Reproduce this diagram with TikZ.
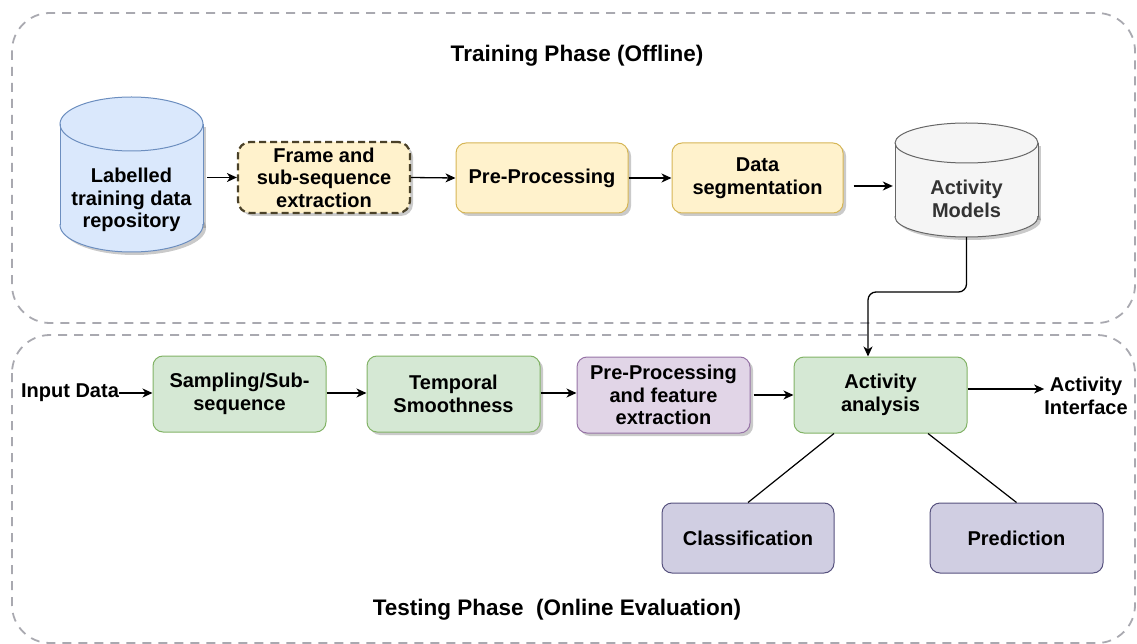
\documentclass[tikz,border=0pt]{standalone}
\usepackage{fontspec}
\setmainfont{Liberation Sans}
\usetikzlibrary{arrows.meta,shadows,calc}
\definecolor{phasegray}{HTML}{A9A9B0}
\definecolor{bluefill}{HTML}{DAE8FC}
\definecolor{bluedraw}{HTML}{6C8EBF}
\definecolor{yelfill}{HTML}{FFF2CC}
\definecolor{yeldraw}{HTML}{D6B656}
\definecolor{framedraw}{HTML}{4A4128}
\definecolor{grnfill}{HTML}{D5E8D4}
\definecolor{grndraw}{HTML}{82B366}
\definecolor{purfill}{HTML}{E1D5E7}
\definecolor{purdraw}{HTML}{9673A6}
\definecolor{slfill}{HTML}{D0CEE2}
\definecolor{sldraw}{HTML}{56517E}
\definecolor{grayfill}{HTML}{F5F5F5}
\definecolor{graydraw}{HTML}{666666}
\definecolor{graytext}{HTML}{333333}
\tikzset{
  phase/.style={draw=phasegray, line width=1.8pt, dash pattern=on 9pt off 7pt, rounded corners=38pt},
  txt/.style={font=\fontsize{20}{22.5}\selectfont\bfseries, align=center, inner sep=0pt},
  ttl/.style={font=\fontsize{22.5}{26}\selectfont\bfseries, align=center, inner sep=0pt},
  box/.style={txt, draw, line width=1pt, rounded corners=10pt},
  shd/.style={drop shadow={shadow xshift=3pt, shadow yshift=-3pt, opacity=0.35, fill=black!60}},
  arr/.style={-{Stealth[length=10pt,width=9pt,inset=3pt]}, line width=1.3pt},
  link/.style={line width=1.2pt},
}
\begin{document}
\begin{tikzpicture}[x=1pt,y=-1pt]
\useasboundingbox (0,0) rectangle (1137,644);
% phase frames
\draw[phase] (12,13) rectangle (1135,323);
\draw[phase] (12,335) rectangle (1135,643);
\node[ttl] (trainttl) at (577,56) {Training Phase (Offline)};
\node[ttl] (testttl) at (557,610) {Testing Phase\ \ (Online Evaluation)};

% cylinder 1: Labelled training data repository
\fill[black!60, opacity=0.35] (63,127) rectangle (206,228);
\fill[black!60, opacity=0.35] (134.5,228) ellipse [x radius=71.5pt, y radius=27pt];
\fill[bluefill] (60,124) rectangle (203,225);
\fill[bluefill] (131.5,225) ellipse [x radius=71.5pt, y radius=27pt];
\fill[bluefill] (131.5,124) ellipse [x radius=71.5pt, y radius=27pt];
\draw[bluedraw, line width=1pt] (60,124) -- (60,225) (203,124) -- (203,225);
\draw[bluedraw, line width=1pt] (131.5,124) ellipse [x radius=71.5pt, y radius=27pt];
\begin{scope}
\clip (50,225) rectangle (215,262);
\draw[bluedraw, line width=1pt] (131.5,225) ellipse [x radius=71.5pt, y radius=27pt];
\end{scope}
\node[minimum width=143pt, minimum height=155pt, inner sep=0pt] (lab) at (131.5,174.5) {};
\node[txt] (labtxt) at (131.5,200) {Labelled\\training data\\repository};

% cylinder 2: Activity Models
\fill[black!60, opacity=0.35] (898,146) rectangle (1041,220);
\fill[black!60, opacity=0.35] (969.5,220) ellipse [x radius=71.5pt, y radius=20pt];
\fill[grayfill] (895,143) rectangle (1038,217);
\fill[grayfill] (966.5,217) ellipse [x radius=71.5pt, y radius=20pt];
\fill[grayfill] (966.5,143) ellipse [x radius=71.5pt, y radius=20pt];
\draw[graydraw, line width=1pt] (895,143) -- (895,217) (1038,143) -- (1038,217);
\draw[graydraw, line width=1pt] (966.5,143) ellipse [x radius=71.5pt, y radius=20pt];
\begin{scope}
\clip (885,217) rectangle (1050,245);
\draw[graydraw, line width=1pt] (966.5,217) ellipse [x radius=71.5pt, y radius=20pt];
\end{scope}
\node[minimum width=143pt, minimum height=114pt, inner sep=0pt] (am) at (966.5,180) {};
\node[txt, text=graytext] (amtxt) at (966.5,199) {Activity\\Models};

% training boxes
\node[box, shd, fill=yelfill, draw=framedraw, line width=2.2pt, dash pattern=on 7pt off 4pt, rounded corners=12pt,
      minimum width=172pt, minimum height=71pt] (frame) at (324,177.5) {Frame and\\sub-sequence\\extraction};
\node[box, shd, fill=yelfill, draw=yeldraw, minimum width=172pt, minimum height=70pt] (pre) at (542,178) {Pre-Processing};
\node[box, shd, fill=yelfill, draw=yeldraw, minimum width=171pt, minimum height=70pt] (seg) at (757.5,178) {Data\\segmentation};

% testing boxes
\node[txt] (input) at (70,393) {Input Data};
\node[box, fill=grnfill, draw=grndraw, minimum width=173pt, minimum height=76pt] (samp) at (239.5,394) {Sampling/Sub-\\sequence};
\node[box, shd, fill=grnfill, draw=grndraw, minimum width=173pt, minimum height=76pt] (temp) at (453.5,394) {Temporal\\Smoothness};
\node[box, shd, fill=purfill, draw=purdraw, minimum width=173pt, minimum height=76pt] (ppf) at (663.5,395) {Pre-Processing\\and feature\\extraction};
\node[box, fill=grnfill, draw=grndraw, minimum width=173pt, minimum height=76pt] (act) at (880.5,395) {Activity\\analysis};
\node[txt] (iface) at (1086,396) {Activity\\Interface};
\node[box, fill=slfill, draw=sldraw, minimum width=172pt, minimum height=70pt] (cls) at (748,538) {Classification};
\node[box, fill=slfill, draw=sldraw, minimum width=173pt, minimum height=70pt] (pred) at (1016.5,538) {Prediction};

% training connectors
\draw[arr] ([xshift=4pt]lab.east |- frame.west) -- (frame.west);
\draw[arr] (frame.east) -- (pre.west);
\draw[arr] (pre.east) -- (seg.west);
\draw[arr] ([xshift=10pt, yshift=-8pt]seg.east) -- ([xshift=-2pt]am.west |- 0,186);
\coordinate (bend) at (0,292);
\draw[arr, rounded corners=8pt] (am.south) -- (am.south |- bend) -| ([xshift=-12.5pt]act.north);

% testing connectors
\draw[arr] (input.east) -- (samp.west |- input.east);
\draw[arr] (samp.east |- input.east) -- (temp.west |- input.east);
\draw[arr] (temp.east |- input.east) -- (ppf.west |- input.east);
\draw[arr] ([xshift=3pt]ppf.east) -- (act.west);
\draw[arr] (act.east |- 0,389) -- (iface.west |- 0,389);
\draw[link] ([xshift=-46.5pt]act.south) -- (cls.north);
\draw[link] ([xshift=47.5pt]act.south) -- (pred.north);
\end{tikzpicture}
\end{document}
